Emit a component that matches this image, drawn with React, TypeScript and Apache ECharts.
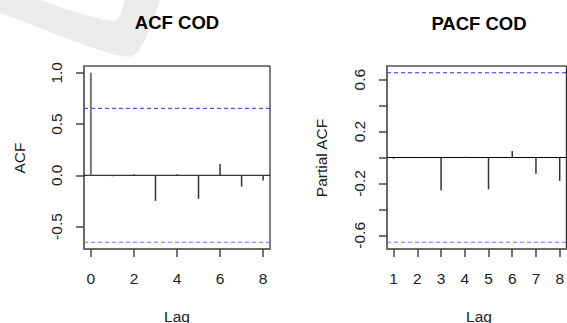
import React, { useEffect, useRef } from "react";
import * as echarts from "echarts";

// ---- data ----
const acfLags = [0, 1, 2, 3, 4, 5, 6, 7, 8];
const acfValues = [1.0, -0.01, 0.01, -0.25, 0.01, -0.23, 0.11, -0.11, -0.05];
const pacfLags = [1, 2, 3, 4, 5, 6, 7, 8];
const pacfValues = [-0.01, 0.005, -0.255, 0.005, -0.245, 0.05, -0.125, -0.18];
const ciBound = 0.653;

const acfXTicks = [0, 2, 4, 6, 8];
const acfYTicks = [-0.5, 0, 0.5, 1.0];
const pacfXTicks = [1, 2, 3, 4, 5, 6, 7, 8];
const pacfYTicks = [-0.6, -0.4, -0.2, 0, 0.2, 0.4, 0.6];
const pacfYLabels = [-0.6, -0.2, 0.2, 0.6];

const FONT = '"Liberation Sans", Arial, sans-serif';
const AXIS_SIZE = 15.5;
const TITLE_SIZE = 18.5;

function extend(lo: number, hi: number) {
  const d = (hi - lo) * 0.04;
  return [lo - d, hi + d];
}

export default function App() {
  const ref = useRef<HTMLDivElement>(null);
  useEffect(() => {
    if (!ref.current) return;
    const chart = echarts.init(ref.current, null, { renderer: "svg" });

    const acfX = extend(Math.min(...acfLags), Math.max(...acfLags));
    const acfY = extend(Math.min(-ciBound, ...acfValues), Math.max(ciBound, ...acfValues));
    const pacfX = extend(Math.min(...pacfLags), Math.max(...pacfLags));
    const pacfY = extend(Math.min(-ciBound, ...pacfValues), Math.max(ciBound, ...pacfValues));

    const axisCommonX = (idx: number, rng: number[], ticks: number[]) => ({
      type: "value",
      gridIndex: idx,
      min: rng[0],
      max: rng[1],
      splitLine: { show: false },
      axisLine: { show: true, onZero: false, lineStyle: { color: "#6a6a6a", width: 2 } },
      axisTick: { show: true, customValues: ticks, length: 8, lineStyle: { color: "#444", width: 1.5 } },
      axisLabel: {
        customValues: ticks,
        formatter: (v: number) => String(Math.round(v)),
        fontSize: AXIS_SIZE,
        fontFamily: FONT,
        color: "#222",
        margin: 21,
      },
    });
    const axisCommonY = (idx: number, rng: number[], ticks: number[], labels: number[]) => ({
      type: "value",
      gridIndex: idx,
      min: rng[0],
      max: rng[1],
      splitLine: { show: false },
      axisLine: { show: true, onZero: false, lineStyle: { color: "#6a6a6a", width: 2 } },
      axisTick: { show: true, customValues: ticks, length: 8, lineStyle: { color: "#444", width: 1.5 } },
      axisLabel: {
        customValues: labels,
        formatter: (v: number) => v.toFixed(1),
        rotate: 90,
        fontSize: AXIS_SIZE,
        fontFamily: FONT,
        color: "#222",
        margin: 20,
      },
    });

    const stems = (idx: number, lags: number[], vals: number[]) => ({
      type: "custom",
      xAxisIndex: idx,
      yAxisIndex: idx,
      clip: false,
      z: 3,
      data: lags.map((l, i) => [l, vals[i]]),
      renderItem: (params: any, api: any) => {
        const x = api.value(0);
        const p0 = api.coord([x, 0]);
        const p1 = api.coord([x, api.value(1)]);
        const first = x === 0;
        return {
          type: "line",
          shape: { x1: p0[0], y1: p0[1], x2: p1[0], y2: p1[1] },
          style: { stroke: first ? "#777" : "#333", lineWidth: first ? 2 : 1.5 },
        };
      },
    });

    const hline = (idx: number, rng: number[], y: number, color: string, dashed: boolean) => ({
      type: "line",
      xAxisIndex: idx,
      yAxisIndex: idx,
      symbol: "none",
      silent: true,
      z: 2,
      data: [
        [rng[0], y],
        [rng[1], y],
      ],
      lineStyle: { color, width: 1, type: dashed ? [4, 3] : "solid" },
    });

    const txt = (text: string, x: number, y: number, size: number, bold: boolean, rot = 0) => ({
      type: "text",
      x,
      y,
      rotation: rot,
      z: 10,
      style: {
        text,
        font: `${bold ? "bold " : ""}${size}px ${FONT}`,
        fill: bold ? "#000" : "#222",
        align: "center",
        verticalAlign: "middle",
      },
    });

    chart.setOption({
      animation: false,
      backgroundColor: "#fff",
      grid: [
        { left: 84, top: 66, width: 186, height: 183, show: true, borderColor: "#000", borderWidth: 1 },
        { left: 387, top: 66, width: 185, height: 183, show: true, borderColor: "#000", borderWidth: 1 },
      ],
      xAxis: [axisCommonX(0, acfX, acfXTicks), axisCommonX(1, pacfX, pacfXTicks)],
      yAxis: [axisCommonY(0, acfY, acfYTicks, acfYTicks), axisCommonY(1, pacfY, pacfYTicks, pacfYLabels)],
      series: [
        hline(0, acfX, ciBound, "#2a2aff", true),
        hline(0, acfX, -ciBound, "#6a6aff", true),
        hline(0, acfX, 0, "#000", false),
        stems(0, acfLags, acfValues),
        hline(1, pacfX, ciBound, "#2a2aff", true),
        hline(1, pacfX, -ciBound, "#6a6aff", true),
        hline(1, pacfX, 0, "#000", false),
        stems(1, pacfLags, pacfValues),
      ],
      graphic: [
        {
          type: "polygon",
          z: 0,
          silent: true,
          shape: {
            points: [
              [0, 0], [42, 0], [62, 8], [85, 15], [105, 20], [116, 21], [121, 14], [124, 0],
              [160, 0], [154, 18], [146, 38], [138, 52], [130, 57], [115, 55], [90, 47],
              [60, 36], [30, 24], [0, 13],
            ],
          },
          style: { fill: "#ebebeb" },
        },
        txt("ACF COD", 177, 22, TITLE_SIZE, true),
        txt("PACF COD", 479, 23, TITLE_SIZE, true),
        txt("Lag", 177, 316, AXIS_SIZE, false),
        txt("Lag", 479, 316, AXIS_SIZE, false),
        txt("ACF", 19, 158, AXIS_SIZE, false, Math.PI / 2),
        txt("Partial ACF", 321, 158, AXIS_SIZE, false, Math.PI / 2),
      ],
    });
    return () => chart.dispose();
  }, []);
  return (
    <div
      ref={ref}
      style={{ position: "absolute", left: 0, top: 0, width: 567, height: 323, overflow: "hidden" }}
    />
  );
}
